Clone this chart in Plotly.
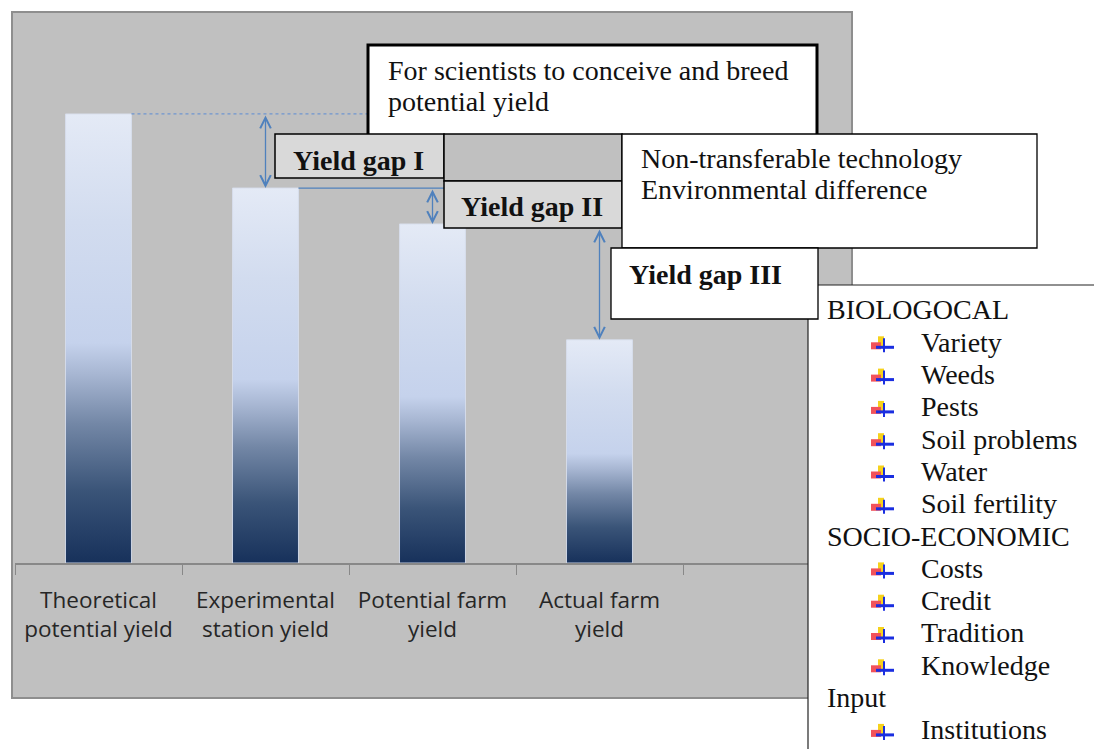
import plotly.graph_objects as go

# ---------------- data ----------------
categories = ["Theoretical<br>potential yield", "Experimental<br>station yield",
              "Potential farm<br>yield", "Actual farm<br>yield", ""]
yields = [10.0, 8.35, 7.55, 4.97]
y_max = 12.27

box_top_lines = ["For scientists to conceive and breed", "potential yield"]
gap_labels = ["Yield gap I", "Yield gap II", "Yield gap III"]
gap2_lines = ["Non-transferable technology", "Environmental difference"]

biological = ["Variety", "Weeds", "Pests", "Soil problems", "Water", "Soil fertility"]
socio = ["Costs", "Credit", "Tradition", "Knowledge"]
inputs = ["Institutions"]
groups = [("BIOLOGOCAL", biological), ("SOCIO-ECONOMIC", socio), ("Input", inputs)]

# ---------------- layout helpers ----------------
W, H = 1102, 749
OFF = 8                                 # page body margin
L, R, T, B = 15, 850, 12, 563          # plot area in page pixels
bw = 0.395                              # bar width (category units)
SERIF = "Liberation Serif"
SANS = "Open Sans"
BLUE = "#4f81bd"
FS = 28


def px(x):
    return (x - L) / (R - L)


def py(y):
    return (B - y) / (B - T)


def xdata(x):
    return (x - L) / (R - L) * len(categories) - 0.5


def ydata(y):
    return (B - y) / (B - T) * y_max


fig = go.Figure()

cs = [[0.0, "#17315b"], [0.16, "#3a5478"], [0.31, "#7387a6"], [0.42, "#a7b6d2"],
      [0.49, "#c5d2ec"], [0.76, "#d2dcef"], [1.0, "#e4eaf6"]]

for i, v in enumerate(yields):
    fig.add_trace(go.Scatter(
        x=[i - bw / 2, i + bw / 2, i + bw / 2, i - bw / 2, i - bw / 2],
        y=[0, 0, v, v, 0],
        mode="lines", fill="toself",
        fillgradient=dict(type="vertical", colorscale=cs),
        line=dict(color="rgba(215,222,236,0.9)", width=1),
        hoverinfo="skip", showlegend=False))

shapes = []
annotations = []

# gray chart area background
shapes.append(dict(type="rect", xref="paper", yref="paper", layer="below",
                   x0=px(12), x1=px(852), y0=py(12), y1=py(698),
                   fillcolor="#c0c0c0", line=dict(color="#8e8e8e", width=2)))

# guide lines
shapes.append(dict(type="line", xref="x", yref="y", x0=0 + bw / 2, x1=xdata(368),
                   y0=yields[0], y1=yields[0], line=dict(color="#6f95cf", width=1.2, dash="dot")))
shapes.append(dict(type="line", xref="x", yref="y", x0=1 + bw / 2, x1=xdata(444),
                   y0=yields[1], y1=yields[1], line=dict(color=BLUE, width=1.3)))


def box(x0, y0, x1, y1, fill, lw=1.5, color="#000000"):
    shapes.append(dict(type="rect", xref="paper", yref="paper",
                       x0=px(x0), x1=px(x1), y0=py(y0), y1=py(y1),
                       fillcolor=fill, line=dict(color=color, width=lw)))


def text(t, x, y, size=FS, xanchor="left", bold=False, font=SERIF, color="#111111"):
    if bold:
        t = "<b>" + t + "</b>"
    annotations.append(dict(text=t, xref="paper", yref="paper", x=px(x), y=py(y),
                            xanchor=xanchor, yanchor="middle", showarrow=False,
                            font=dict(family=font, size=size, color=color)))


# legend panel (white, left & top border)
shapes.append(dict(type="rect", xref="paper", yref="paper",
                   x0=px(808), x1=px(1120), y0=py(285), y1=py(770),
                   fillcolor="white", line=dict(width=0)))
shapes.append(dict(type="line", xref="paper", yref="paper",
                   x0=px(808), x1=px(1120), y0=py(285), y1=py(285),
                   line=dict(color="#222222", width=1.2)))
shapes.append(dict(type="line", xref="paper", yref="paper",
                   x0=px(808), x1=px(808), y0=py(285), y1=py(770),
                   line=dict(color="#222222", width=1.2)))

# annotation boxes
box(368, 45, 817, 150, "white", lw=3)
box(275, 134, 444, 178, "#d9d9d9")
box(444, 134, 622, 181, "#c0c0c0")
box(444, 181, 622, 228, "#d9d9d9")
box(622, 134, 1037, 248, "white", lw=1.3)
box(611, 248, 818, 319, "white", lw=1.3)

for k, line in enumerate(box_top_lines):
    text(line, 386, 70 + 32 * k)
text(gap_labels[0], 358, 161, xanchor="center", bold=True)
text(gap_labels[1], 532, 207, xanchor="center", bold=True)
for k, line in enumerate(gap2_lines):
    text(line, 639, 158 + 31 * k)
text(gap_labels[2], 627, 274, bold=True)

# legend rows
row_y = 310
step = 32.3
for header, items in groups:
    text(header, 825, row_y)
    row_y += step
    for it in items:
        cy = row_y + 2
        shapes.append(dict(type="rect", xref="paper", yref="paper",
                           x0=px(878), x1=px(884), y0=py(cy - 8), y1=py(cy + 2),
                           fillcolor="#f6d21c", line=dict(width=0)))
        shapes.append(dict(type="rect", xref="paper", yref="paper",
                           x0=px(871), x1=px(881), y0=py(cy - 2), y1=py(cy + 5),
                           fillcolor="#f2525a", line=dict(width=0)))
        shapes.append(dict(type="line", xref="paper", yref="paper",
                           x0=px(876), x1=px(894), y0=py(cy + 3), y1=py(cy + 3),
                           line=dict(color="#1a2ee0", width=3)))
        shapes.append(dict(type="line", xref="paper", yref="paper",
                           x0=px(884), x1=px(884), y0=py(cy - 6), y1=py(cy + 8),
                           line=dict(color="#1a2ee0", width=2)))
        text(it, 919, row_y)
        row_y += step

# double-headed gap arrows
arrow_specs = [
    (1, yields[1], yields[0]),
    (2, yields[2], yields[1]),
    (3, yields[3], ydata(228)),
]
for xa, y_lo, y_hi in arrow_specs:
    annotations.append(dict(x=xa, y=y_lo, ax=xa, ay=y_hi, xref="x", yref="y",
                            axref="x", ayref="y", text="", showarrow=True,
                            arrowhead=5, startarrowhead=5, arrowside="end+start",
                            arrowsize=1.6, startarrowsize=1.6, arrowwidth=1.3,
                            arrowcolor=BLUE))

fig.update_layout(
    width=W - OFF, height=H - OFF,
    margin=dict(l=L - OFF, r=W - R, t=T - OFF, b=H - B, pad=0),
    paper_bgcolor="white", plot_bgcolor="rgba(0,0,0,0)",
    showlegend=False,
    shapes=shapes, annotations=annotations,
    xaxis=dict(range=[-0.5, len(categories) - 0.5], tickmode="array",
               tickvals=list(range(len(categories))), ticktext=categories,
               ticks="", showgrid=False, zeroline=False,
               showline=True, linecolor="#888888", linewidth=1.5,
               tickfont=dict(family=SANS, size=22.5, color="#262626"),
               ticklabelstandoff=16,
               minor=dict(tickmode="array",
                          tickvals=[i - 0.5 for i in range(len(categories) + 1)],
                          ticks="outside", ticklen=10, tickcolor="#888888",
                          tickwidth=1.2, showgrid=False),
               fixedrange=True),
    yaxis=dict(range=[0, y_max], visible=False, fixedrange=True),
)

fig.write_html("out.html")
